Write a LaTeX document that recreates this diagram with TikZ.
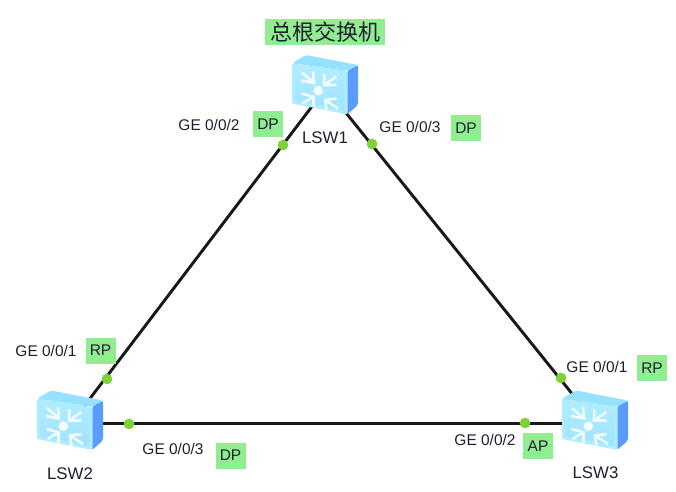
\documentclass[tikz,border=0pt]{standalone}
\usepackage{fontspec}
\setmainfont{Liberation Sans}
\newfontfamily\cjk{Noto Sans CJK SC}
\definecolor{portgreen}{RGB}{128,208,56}
\definecolor{tagGreen}{RGB}{144,238,144}
\definecolor{textdark}{RGB}{30,30,50}
\definecolor{iconside}{RGB}{90,155,255}
\definecolor{icontop}{RGB}{150,225,255}
\definecolor{iconrim}{RGB}{175,236,255}
\definecolor{iconface}{RGB}{160,228,255}
\tikzset{
  every picture/.style={line width=0.75pt},
  lswnode/.style={inner sep=0pt,minimum size=0pt},
  link/.style={line width=2.2pt,black!90},
  portdot/.style={circle,fill=portgreen,inner sep=0pt,minimum size=8pt},
  portname/.style={text=textdark,font=\fontsize{11.6}{14}\selectfont,inner sep=0pt},
  swname/.style={text=textdark,font=\fontsize{12.6}{15}\selectfont,inner sep=0pt},
  roletag/.style={fill=tagGreen,text=textdark,font=\fontsize{11.6}{14}\selectfont,minimum width=22.5pt,minimum height=19.5pt,inner sep=0pt},
  chevron/.style={white,line width=1.9pt,opacity=0.85},
  lswicon/.pic={
    % right side, top, front
    \fill [iconside,rounded corners=1.5pt] (21,-17) -- (32,-23) -- (32,17) -- (21,26.5) -- cycle;
    \fill [icontop,rounded corners=1.5pt] (-34,-24.7) -- (-20,-33) -- (32,-23) -- (21,-17) -- cycle;
    \fill [iconrim,rounded corners=1pt] (-34,-24.7) -- (21.5,-17) -- (21.5,26.5) -- (-34,15.5) -- cycle;
    \shade [top color=iconrim,bottom color=iconface] (-31,-20) -- (18.5,-13) -- (18.5,22.5) -- (-31,12.5) -- cycle;
    % arrows to the middle
    \draw [chevron] (-24,-15.5) -- (-12,-5) (-13,-16.5) -- (-12,-5) -- (-25,-7.5);
    \draw [chevron] (10.5,-11.5) -- (-2,-3) (-1.5,-14) -- (-2,-3) -- (10.5,-3);
    \draw [chevron] (-23.5,15.5) -- (-12.5,8.7) (-24.5,5.5) -- (-12.5,8.7) -- (-12.5,19);
    \draw [chevron] (12,20.5) -- (-1,12) (10.5,10.5) -- (-1,12) -- (.5,22);
    \fill [white,opacity=0.9] (-7.7,2.7) circle (3.6pt);
  }
}
\begin{document}
\begin{tikzpicture}[x=0.75pt,y=0.75pt,yscale=-1,xscale=1]
	\useasboundingbox (0,0) rectangle (676,492);

	% Switches
	\node [lswnode] (lsw1) at (326,88) {};
	\node [lswnode] (lsw2) at (71,423.5) {};
	\node [lswnode] (lsw3) at (596,423.5) {};

	% Links
	\draw [link] (lsw1) -- (lsw2);
	\draw [link] (lsw1) -- (lsw3);
	\draw [link] (lsw2) -- (lsw3);

	\pic [transform shape] at (lsw1) {lswicon};
	\pic [transform shape] at (lsw2) {lswicon};
	\pic [transform shape] at (lsw3) {lswicon};

	% Ports
	\node [portdot] (p12) at (283,145) {};
	\node [portdot] (p13) at (372,144) {};
	\node [portdot] (p21) at (107,379) {};
	\node [portdot] (p23) at (129,424) {};
	\node [portdot] (p31) at (561,378) {};
	\node [portdot] (p32) at (525,423) {};

	% Text Node
	\node [fill=tagGreen,minimum width=90pt,minimum height=19.5pt,inner sep=0pt,text=textdark,font=\cjk\fontsize{16.5}{18}\selectfont] (root) at (325,32) {总根交换机};
	\node [swname] (name1) at (325,138) {LSW1};
	\node [swname] (name2) at (70,474) {LSW2};
	\node [swname] (name3) at (595.5,473) {LSW3};

	\node [portname] (g12) at (209,125) {GE 0/0/2};
	\node [portname] (g13) at (410,127) {GE 0/0/3};
	\node [portname] (g21) at (46,351) {GE 0/0/1};
	\node [portname] (g23) at (173,449) {GE 0/0/3};
	\node [portname] (g32) at (485,440) {GE 0/0/2};
	\node [portname] (g31) at (597,367) {GE 0/0/1};

	\node [roletag] (t12) at (268,124) {DP};
	\node [roletag] (t13) at (466,128) {DP};
	\node [roletag] (t21) at (100.5,350.5) {RP};
	\node [roletag] (t23) at (230.5,455.5) {DP};
	\node [roletag] (t32) at (538,446) {AP};
	\node [roletag] (t31) at (652,368) {RP};
\end{tikzpicture}
\end{document}
